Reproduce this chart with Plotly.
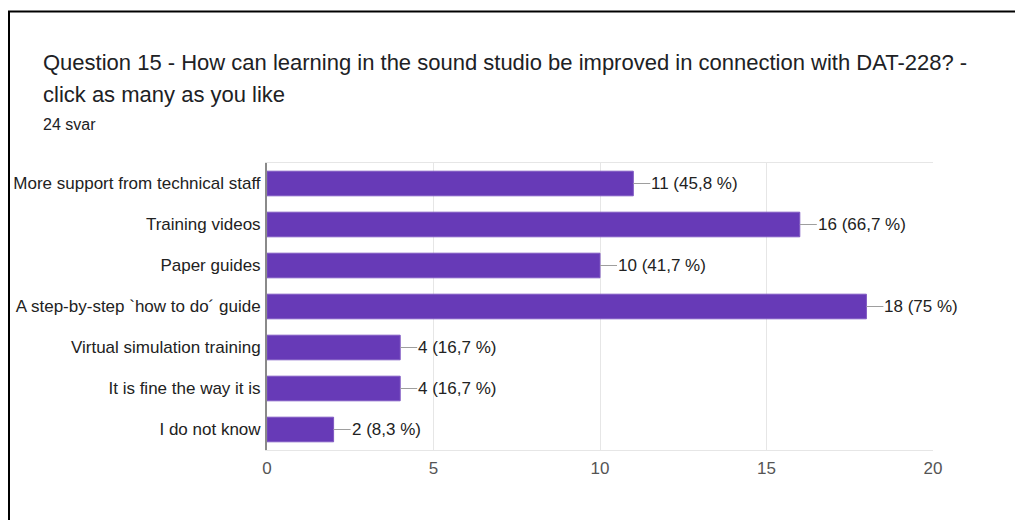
import plotly.graph_objects as go

categories = [
    "More support from technical staff",
    "Training videos",
    "Paper guides",
    "A step-by-step `how to do´ guide",
    "Virtual simulation training",
    "It is fine the way it is",
    "I do not know",
]
counts = [11, 16, 10, 18, 4, 4, 2]
percents = ["45,8", "66,7", "41,7", "75", "16,7", "16,7", "8,3"]
x_ticks = [0, 5, 10, 15, 20]

title_line1 = "Question 15 - How can learning in the sound studio be improved in connection with DAT-228? -"
title_line2 = "click as many as you like"
subtitle = "24 svar"

# page body has an 8px margin; work in page pixels and convert
OFF = 8
W, H = 1007, 512
PL, PR, PT, PB = 267, 933, 163, 450  # plot area in page pixels
ML, MT = PL - OFF, PT - OFF
MR = W - (PR - OFF)
MB = H - (PB - OFF)
pw, ph = PR - PL, PB - PT

def px_x(p):
    return (p - PL) / pw

def px_y(p):
    return (PB - p) / ph

FONT = "Liberation Sans, Arial, Helvetica"

fig = go.Figure()
fig.add_trace(go.Bar(
    x=counts, y=categories, orientation="h",
    marker=dict(color="#673ab7", line=dict(color="#7e57c2", width=1)),
    width=0.6, hoverinfo="skip",
))

annotations = []
for c, v, p in zip(categories, counts, percents):
    annotations.append(dict(
        x=v, y=c, xref="x", yref="y",
        text=f"{v} ({p} %)", showarrow=True, arrowhead=0,
        arrowwidth=1, arrowcolor="#9e9e9e", ax=17, ay=0,
        xanchor="left", yanchor="middle", borderpad=0,
        font=dict(family=FONT, size=17, color="#222222"),
    ))

annotations += [
    dict(x=px_x(41), y=px_y(62), xref="paper", yref="paper", text=title_line1,
         showarrow=False, xanchor="left", yanchor="middle",
         font=dict(family=FONT, size=22, color="#202124")),
    dict(x=px_x(41), y=px_y(94), xref="paper", yref="paper", text=title_line2,
         showarrow=False, xanchor="left", yanchor="middle",
         font=dict(family=FONT, size=22, color="#202124")),
    dict(x=px_x(41), y=px_y(124), xref="paper", yref="paper", text=subtitle,
         showarrow=False, xanchor="left", yanchor="middle",
         font=dict(family=FONT, size=16, color="#202124")),
]

shapes = [
    dict(type="line", xref="paper", yref="paper",
         x0=px_x(8), x1=px_x(OFF + W + 5), y0=px_y(11.5), y1=px_y(11.5),
         line=dict(color="#000000", width=2)),
    dict(type="line", xref="paper", yref="paper",
         x0=px_x(9), x1=px_x(9), y0=px_y(11), y1=px_y(OFF + H + 5),
         line=dict(color="#000000", width=2)),
]

fig.update_layout(
    width=W, height=H,
    margin=dict(l=ML, r=MR, t=MT, b=MB, autoexpand=False),
    paper_bgcolor="white", plot_bgcolor="white",
    showlegend=False, bargap=0.4,
    annotations=annotations, shapes=shapes,
    font=dict(family=FONT, size=17, color="#222222"),
)
fig.update_xaxes(
    range=[0, 20], tickvals=x_ticks, showgrid=True, gridcolor="#e6e6e6",
    gridwidth=1, zeroline=False, showline=True, mirror=True, linecolor="#e6e6e6",
    tickfont=dict(family=FONT, size=17, color="#555555"),
    ticklabelstandoff=3, fixedrange=True, automargin=False,
)
fig.update_yaxes(
    autorange="reversed", showgrid=False, zeroline=False,
    showline=True, linecolor="#8a8a8a", linewidth=2,
    tickfont=dict(family=FONT, size=17, color="#222222"),
    ticklabelstandoff=1, fixedrange=True, automargin=False,
)

fig.write_html("out.html", config={"displayModeBar": False})
